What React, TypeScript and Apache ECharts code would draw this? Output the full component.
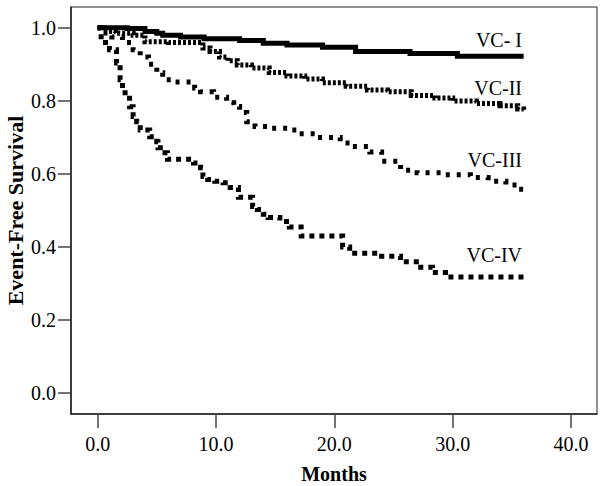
import React, { useEffect, useRef } from "react";
import * as echarts from "echarts";

const xTicks = [0, 10, 20, 30, 40];
const yTicks = [0, 0.2, 0.4, 0.6, 0.8, 1.0];

const vc1Time = [0, 2.5, 4.0, 5, 5.5, 7, 9, 12, 14, 16, 19, 21.8, 26.4, 30.4, 36];
const vc1Surv = [1.0, 0.998, 0.99, 0.985, 0.98, 0.975, 0.97, 0.965, 0.958, 0.953, 0.947, 0.935, 0.93, 0.922, 0.922];

const vc2Time = [0, 0.5, 1.5, 3, 4.0, 6, 8.9, 9.5, 10.3, 11, 11.8, 13, 14.5, 16, 17.5, 19, 21, 22.8, 24.5, 26.5, 28.5, 30, 32, 34, 35.5, 36];
const vc2Surv = [1.0, 0.99, 0.985, 0.98, 0.962, 0.96, 0.945, 0.935, 0.92, 0.91, 0.898, 0.89, 0.878, 0.868, 0.86, 0.85, 0.84, 0.83, 0.825, 0.815, 0.808, 0.8, 0.793, 0.787, 0.778, 0.775];

const vc3Time = [0, 0.3, 1.2, 2.1, 3, 3.6, 4.3, 5.0, 5.5, 6.5, 8.2, 8.7, 9.8, 10.9, 11.5, 12.0, 12.6, 13.3, 14.5, 16.3, 17, 18.5, 20.5, 21.5, 23, 24, 25.6, 27, 29, 31.5, 33, 34.5, 35.5, 36];
const vc3Surv = [1.0, 0.986, 0.975, 0.96, 0.94, 0.92, 0.9, 0.877, 0.858, 0.852, 0.835, 0.825, 0.81, 0.795, 0.785, 0.768, 0.743, 0.73, 0.725, 0.72, 0.71, 0.7, 0.685, 0.675, 0.66, 0.635, 0.61, 0.603, 0.598, 0.59, 0.58, 0.57, 0.558, 0.555];

const vc4Time = [0, 0.3, 1.0, 1.6, 1.9, 2.1, 2.7, 3.0, 3.3, 3.6, 4.4, 5.0, 5.1, 5.7, 5.9, 8.1, 8.7, 8.9, 9.3, 9.9, 10.6, 11.2, 11.9, 13.1, 13.5, 14.0, 14.4, 15.4, 16.2, 17.2, 20.7, 21.3, 24, 25.6, 27.3, 28.3, 29.4, 36];
const vc4Surv = [1.0, 0.96, 0.94, 0.904, 0.858, 0.822, 0.784, 0.757, 0.743, 0.72, 0.702, 0.688, 0.672, 0.658, 0.64, 0.63, 0.617, 0.593, 0.585, 0.58, 0.576, 0.563, 0.536, 0.511, 0.503, 0.49, 0.481, 0.47, 0.455, 0.43, 0.4, 0.383, 0.375, 0.36, 0.345, 0.33, 0.318, 0.318];

const seriesNames = ["VC- I", "VC-II", "VC-III", "VC-IV"];

const FONT = "'Liberation Serif', 'Times New Roman', serif";

const zip = (t: number[], v: number[]) => t.map((x, i) => [x, v[i]]);

export default function App() {
  const ref = useRef<HTMLDivElement>(null);
  useEffect(() => {
    if (!ref.current) return;
    const chart = echarts.init(ref.current, undefined, { renderer: "svg" });
    const mk = (name: string, t: number[], v: number[], type: any) => ({
      name,
      type: "line",
      step: "end",
      showSymbol: false,
      symbol: "none",
      data: zip(t, v),
      lineStyle: { color: "#000", width: 5, type, cap: "butt", join: "miter" },
      silent: true,
    });
    const labelStyle = { fontFamily: FONT, fontSize: 20, fill: "#000", textAlign: "right", textVerticalAlign: "middle" };
    chart.setOption({
      animation: false,
      grid: { left: 71, top: 7, right: 9, bottom: 72, outerBoundsMode: "none", containLabel: false, show: true, borderColor: "#222", borderWidth: 1, backgroundColor: "#fff" },
      xAxis: {
        type: "value",
        min: -2.25,
        max: 42.2,
        name: "Months",
        nameLocation: "middle",
        nameGap: 50,
        nameMoveOverlap: false,
        nameTextStyle: { fontFamily: FONT, fontSize: 20, fontWeight: "bold", color: "#000" },
        axisLine: { show: true, onZero: false, lineStyle: { color: "#222", width: 1.5 } },
        axisTick: { show: true, inside: false, length: 14, customValues: xTicks, lineStyle: { color: "#444", width: 1.5 } },
        axisLabel: { customValues: xTicks, margin: 20, fontFamily: FONT, fontSize: 20, color: "#000", formatter: (v: number) => v.toFixed(1) },
        splitLine: { show: false },
      },
      yAxis: {
        type: "value",
        min: -0.057,
        max: 1.057,
        name: "Event-Free Survival",
        nameLocation: "middle",
        nameGap: 45,
        nameMoveOverlap: false,
        nameTextStyle: { fontFamily: FONT, fontSize: 22, fontWeight: "bold", color: "#000" },
        axisLine: { show: true, onZero: false, lineStyle: { color: "#222", width: 1.5 } },
        axisTick: { show: true, inside: false, length: 13, customValues: yTicks, lineStyle: { color: "#444", width: 1.5 } },
        axisLabel: { customValues: yTicks, margin: 15, fontFamily: FONT, fontSize: 20, color: "#000", formatter: (v: number) => v.toFixed(1) },
        splitLine: { show: false },
      },
      series: [
        mk(seriesNames[0], vc1Time, vc1Surv, "solid"),
        mk(seriesNames[1], vc2Time, vc2Surv, [3, 2]),
        mk(seriesNames[2], vc3Time, vc3Surv, [4, 7]),
        mk(seriesNames[3], vc4Time, vc4Surv, [5, 5]),
      ],
      graphic: [
        { type: "text", x: 522, y: 40, style: { ...labelStyle, text: seriesNames[0] } },
        { type: "text", x: 522, y: 88, style: { ...labelStyle, text: seriesNames[1] } },
        { type: "text", x: 522, y: 160, style: { ...labelStyle, text: seriesNames[2] } },
        { type: "text", x: 522, y: 255, style: { ...labelStyle, text: seriesNames[3] } },
      ],
    });
    return () => chart.dispose();
  }, []);
  return <div ref={ref} style={{ width: 606, height: 486, position: "absolute", left: 0, top: 0 }} />;
}
